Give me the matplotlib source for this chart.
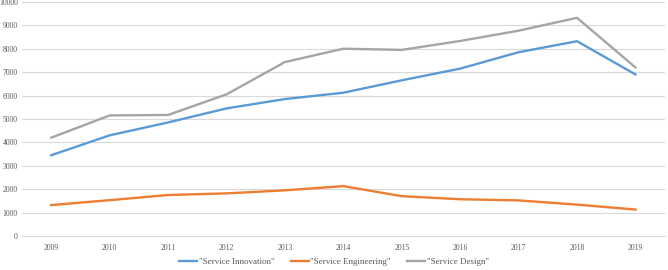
import matplotlib.pyplot as plt

years = ['2009', '2010', '2011', '2012', '2013', '2014', '2015', '2016', '2017', '2018', '2019']
innovation = [3450, 4300, 4850, 5450, 5850, 6120, 6650, 7150, 7850, 8320, 6900]
engineering = [1320, 1530, 1750, 1820, 1950, 2130, 1700, 1570, 1520, 1340, 1130]
design = [4200, 5150, 5170, 6050, 7430, 8000, 7950, 8330, 8770, 9320, 7200]

plt.rcParams['font.family'] = ['Liberation Serif', 'DejaVu Serif']

fig = plt.figure(figsize=(6.68, 2.70), dpi=100)
ax = fig.add_axes([0.033, 0.126, 0.962, 0.867])

x = range(len(years))
ax.plot(x, innovation, color='#5B9BD5', lw=1.7, label='"Service Innovation"')
ax.plot(x, engineering, color='#ED7D31', lw=1.7, label='"Service Engineering"')
ax.plot(x, design, color='#A5A5A5', lw=1.7, label='"Service Design"')

ax.set_xlim(-0.5, len(years) - 0.5)
ax.set_ylim(0, 10000)
ax.set_yticks(range(0, 10001, 1000))
ax.set_xticks(list(x))
ax.set_xticklabels(years)
ax.grid(axis='y', color='#D9D9D9', lw=0.8)
ax.set_axisbelow(True)
for s in ['top', 'right', 'left']:
    ax.spines[s].set_visible(False)
ax.spines['bottom'].set_color('#D9D9D9')
ax.tick_params(length=0, labelsize=5.5, colors='#595959')
ax.tick_params(axis='x', pad=6)
ax.tick_params(axis='y', pad=3)

fig.legend(loc='center', bbox_to_anchor=(0.5, 0.03), ncol=3, frameon=False,
           fontsize=6.5, labelcolor='#595959', handlelength=2.0, columnspacing=1.8,
           handletextpad=0.2)

fig.savefig('out.png', dpi=100)
